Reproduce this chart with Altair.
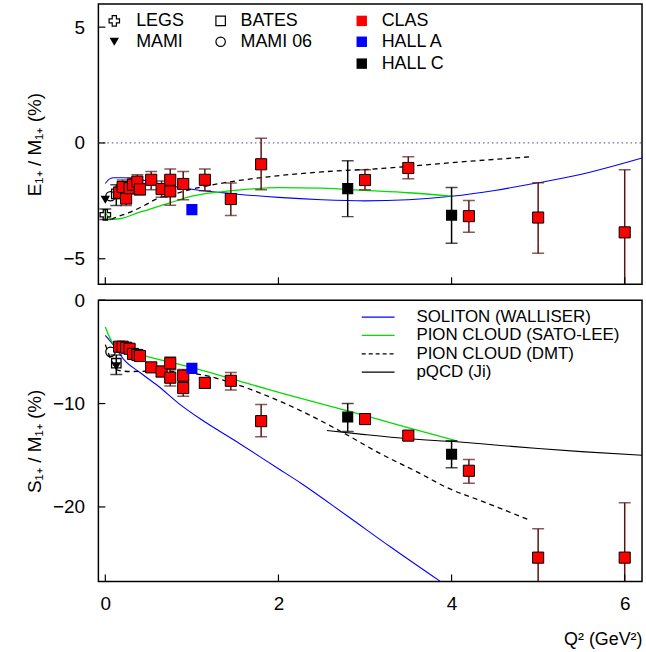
import altair as alt
import pandas as pd

FONT = "Liberation Sans"
W, H1, H2 = 547, 282, 283
XDOM = [-0.08, 6.2]
YDOM_E = [-6.1, 6.0]
YDOM_S = [-27.2, 0.0]

# ---------------- data: E1+/M1+ panel ----------------
clas_e_q2 = [0.16, 0.20, 0.24, 0.28, 0.32, 0.37, 0.40, 0.53, 0.65, 0.75, 0.75, 0.90, 1.15, 1.45, 1.80, 3.00, 3.50, 4.20, 5.00, 6.00]
clas_e_val = [-2.15, -1.90, -2.40, -1.95, -1.80, -1.67, -2.00, -1.59, -1.99, -1.59, -2.09, -1.77, -1.59, -2.42, -0.92, -1.60, -1.08, -3.16, -3.22, -3.86]
clas_e_hi = [-1.90, -1.60, -2.10, -1.70, -1.50, -1.37, -1.75, -1.23, -1.64, -1.12, -1.50, -1.23, -1.12, -1.73, 0.20, -1.16, -0.59, -2.48, -1.72, -1.16]
clas_e_lo = [-2.40, -2.20, -2.70, -2.20, -2.10, -1.97, -2.25, -2.02, -2.34, -2.10, -2.69, -2.45, -2.06, -3.13, -2.02, -2.02, -1.55, -3.85, -4.76, -6.50]

halla_e_q2 = [1.00]
halla_e_val = [-2.88]

hallc_e_q2 = [2.80, 4.00]
hallc_e_val = [-1.97, -3.12]
hallc_e_hi = [-0.77, -1.92]
hallc_e_lo = [-3.18, -4.33]

legs_e_q2 = [0.00]
legs_e_val = [-3.10]
legs_e_hi = [-2.85]
legs_e_lo = [-3.30]

mami_e_q2 = [0.00]
mami_e_val = [-2.45]

bates_e_q2 = [0.127]
bates_e_val = [-2.20]
bates_e_hi = [-1.80]
bates_e_lo = [-2.70]

mami06_e_q2 = [0.06]
mami06_e_val = [-2.30]

# model curves (E1+/M1+)
sol_e_q2 = [0.00, 0.05, 0.10, 0.20, 0.35, 0.50, 0.75, 1.00, 1.50, 2.00, 2.50, 3.00, 3.50, 4.00, 4.50, 5.00, 5.50, 6.20]
sol_e_val = [-1.75, -1.55, -1.50, -1.50, -1.55, -1.65, -1.85, -2.00, -2.20, -2.35, -2.45, -2.50, -2.45, -2.30, -2.05, -1.72, -1.35, -0.65]
sato_e_q2 = [0.00, 0.05, 0.10, 0.20, 0.35, 0.50, 0.75, 1.00, 1.50, 2.00, 2.50, 3.00, 3.50, 4.00]
sato_e_val = [-3.00, -3.25, -3.30, -3.25, -3.05, -2.88, -2.58, -2.30, -2.05, -1.93, -1.95, -2.05, -2.15, -2.30]
dmt_e_q2 = [0.07, 0.13, 0.28, 0.47, 0.60, 0.80, 1.05, 1.37, 1.91, 2.50, 3.20, 4.00, 4.90]
dmt_e_val = [-3.30, -3.20, -3.00, -2.66, -2.40, -2.20, -1.95, -1.72, -1.45, -1.25, -1.10, -0.85, -0.60]

# ---------------- data: S1+/M1+ panel ----------------
clas_s_q2 = [0.16, 0.20, 0.24, 0.28, 0.32, 0.37, 0.40, 0.53, 0.65, 0.75, 0.75, 0.90, 0.90, 1.15, 1.45, 1.80, 3.00, 3.50, 4.20, 5.00, 6.00]
clas_s_val = [-4.5, -4.5, -4.6, -4.7, -5.2, -5.3, -5.4, -6.5, -6.9, -6.1, -7.5, -7.3, -8.5, -8.0, -7.8, -11.7, -11.5, -13.1, -16.5, -24.9, -24.9]
clas_s_hi = [-4.1, -4.1, -4.2, -4.3, -4.8, -4.9, -5.0, -6.1, -6.4, -5.5, -6.7, -6.7, -7.7, -7.5, -7.0, -10.1, -11.2, -12.7, -15.4, -22.1, -19.6]
clas_s_lo = [-4.9, -4.9, -5.0, -5.1, -5.6, -5.7, -5.8, -6.9, -7.4, -6.7, -8.3, -7.9, -9.3, -8.5, -8.7, -13.2, -11.9, -13.5, -17.7, -28.5, -30.0]

halla_s_q2 = [1.00]
halla_s_val = [-6.6]

hallc_s_q2 = [2.80, 4.00]
hallc_s_val = [-11.3, -14.9]
hallc_s_hi = [-10.0, -13.6]
hallc_s_lo = [-12.7, -16.2]

mami_s_q2 = [0.127]
mami_s_val = [-6.4]

bates_s_q2 = [0.127]
bates_s_val = [-6.1]
bates_s_hi = [-5.3]
bates_s_lo = [-7.2]

mami06_s_q2 = [0.06]
mami06_s_val = [-5.0]

sol_s_q2 = [0.00, 0.09, 0.22, 0.40, 0.61, 0.85, 1.10, 1.50, 2.00, 2.26, 2.80, 3.30, 3.87]
sol_s_val = [-3.4, -4.3, -5.8, -7.0, -8.3, -10.0, -11.5, -13.6, -16.3, -17.7, -20.9, -23.9, -27.2]
sato_s_q2 = [0.00, 0.05, 0.10, 0.20, 0.41, 0.70, 0.99, 1.50, 1.91, 2.26, 2.80, 3.40, 4.06]
sato_s_val = [-2.6, -3.6, -4.3, -4.8, -5.3, -5.9, -6.5, -7.7, -8.7, -9.5, -10.7, -12.1, -13.6]
dmt_s_q2 = [0.00, 0.08, 0.15, 0.30, 0.61, 1.10, 1.50, 1.91, 2.26, 2.70, 3.19, 3.60, 3.94, 4.40, 4.88]
dmt_s_val = [-4.3, -6.0, -6.8, -6.9, -6.85, -7.2, -8.1, -9.4, -10.7, -12.6, -14.9, -16.6, -18.1, -19.6, -21.2]
pqcd_s_q2 = [2.56, 3.00, 3.50, 4.06, 4.50, 5.00, 5.50, 6.20]
pqcd_s_val = [-12.6, -13.0, -13.4, -13.7, -14.0, -14.35, -14.65, -15.0]

x_ticks = [0, 2, 4, 6]
e_ticks = [-5, 0, 5]
s_ticks = [-20, -10, 0]

top_legend_names = [["LEGS", "MAMI"], ["BATES", "MAMI 06"], ["CLAS", "HALL A", "HALL C"]]
bottom_legend_names = ["SOLITON (WALLISER)", "PION CLOUD (SATO-LEE)", "PION CLOUD (DMT)", "pQCD (Ji)"]


# ---------------- helpers ----------------
def xenc(field, bottom):
    if bottom:
        axis = alt.Axis(values=x_ticks, ticks=False, domain=False, grid=False,
                        labelFont=FONT, labelFontSize=19, labelPadding=13, labelColor="black",
                        title="Q² (GeV²)", titleFont=FONT, titleFontSize=18,
                        titleFontWeight="normal", titleColor="black",
                        titleAnchor="end", titlePadding=17)
    else:
        axis = None
    return alt.X(f"{field}:Q", scale=alt.Scale(domain=XDOM, nice=False, zero=False), axis=axis)


def yenc(field, panel):
    if panel == "E":
        dom, vals, title = YDOM_E, e_ticks, "E₁₊ / M₁₊ (%)"
    else:
        dom, vals, title = YDOM_S, s_ticks, "S₁₊ / M₁₊ (%)"
    axis = alt.Axis(values=vals, ticks=False, domain=False, grid=False,
                    labelFont=FONT, labelFontSize=19, labelPadding=14, labelColor="black",
                    title=title, titleFont=FONT, titleFontSize=19, titleFontWeight="normal",
                    titleColor="black", titlePadding=6, minExtent=48, maxExtent=48)
    return alt.Y(f"{field}:Q", scale=alt.Scale(domain=dom, nice=False, zero=False), axis=axis)


def curve(q2, val, panel, bottom, color, dash=None, width=1.2):
    df = pd.DataFrame({"q2": q2, "v": val})
    kw = dict(color=color, strokeWidth=width, interpolate="monotone", clip=True)
    if dash:
        kw["strokeDash"] = dash
    return alt.Chart(df).mark_line(**kw).encode(x=xenc("q2", bottom), y=yenc("v", panel))


def errbars(q2, lo, hi, panel, bottom, color):
    df = pd.DataFrame({"q2": q2, "lo": lo, "hi": hi})
    rule = alt.Chart(df).mark_rule(color=color, strokeWidth=1.5, clip=True).encode(
        x=xenc("q2", bottom), y=yenc("lo", panel), y2="hi:Q")
    cap_lo = alt.Chart(df).mark_tick(color=color, orient="horizontal", size=12, thickness=1.5, clip=True).encode(
        x=xenc("q2", bottom), y=yenc("lo", panel))
    cap_hi = alt.Chart(df).mark_tick(color=color, orient="horizontal", size=12, thickness=1.5, clip=True).encode(
        x=xenc("q2", bottom), y=yenc("hi", panel))
    return [rule, cap_lo, cap_hi]


def pts(q2, val, panel, bottom, shape, fill, stroke, size, filled=True, sw=1.0):
    df = pd.DataFrame({"q2": q2, "v": val})
    kw = dict(shape=shape, size=size, filled=filled, opacity=1, strokeWidth=sw, clip=True)
    if filled:
        kw["fill"] = fill
        kw["fillOpacity"] = 1
    else:
        kw["fillOpacity"] = 0
    if stroke:
        kw["stroke"] = stroke
    return alt.Chart(df).mark_point(**kw).encode(x=xenc("q2", bottom), y=yenc("v", panel))


def inner_ticks(panel, bottom, height):
    yt = e_ticks if panel == "E" else s_ticks
    ydf = pd.DataFrame({"t": yt})
    xdf = pd.DataFrame({"t": x_ticks})
    ry = alt.Chart(ydf).mark_rule(color="black", strokeWidth=1.2).encode(
        y=yenc("t", panel), x=alt.value(0), x2=alt.value(7))
    rx = alt.Chart(xdf).mark_rule(color="black", strokeWidth=1.2).encode(
        x=xenc("t", bottom), y=alt.value(height), y2=alt.value(height - 7))
    return [ry, rx]


one = pd.DataFrame({"a": [0]})


def label(text, x, y, size=18):
    return alt.Chart(one).mark_text(text=text, font=FONT, fontSize=size, align="left",
                                    baseline="middle", color="black").encode(
        x=alt.value(x), y=alt.value(y))


def sym(x, y, shape, fill, stroke, size, filled=True, sw=1.2):
    kw = dict(shape=shape, size=size, filled=filled, opacity=1, strokeWidth=sw)
    if filled:
        kw["fill"] = fill
        kw["fillOpacity"] = 1
    else:
        kw["fillOpacity"] = 0
    if stroke:
        kw["stroke"] = stroke
    return alt.Chart(one).mark_point(**kw).encode(x=alt.value(x), y=alt.value(y))


RED = "#ff0000"
ERR_RED = "#5a1414"

# ---------------- top panel ----------------
zero = alt.Chart(pd.DataFrame({"v": [0.0]})).mark_rule(color="#6a6aa8", strokeWidth=1.3, strokeDash=[1.5, 3]).encode(
    y=yenc("v", "E"), x=alt.value(0), x2=alt.value(W))

top_layers = [zero,
              curve(sol_e_q2, sol_e_val, "E", False, "#0000ff", width=1.1),
              curve(sato_e_q2, sato_e_val, "E", False, "#00dd00", width=1.3),
              curve(dmt_e_q2, dmt_e_val, "E", False, "black", dash=[5, 4], width=1.3)]
top_layers += errbars(legs_e_q2, legs_e_lo, legs_e_hi, "E", False, "black")
top_layers += errbars(bates_e_q2, bates_e_lo, bates_e_hi, "E", False, "black")
top_layers += errbars(clas_e_q2, clas_e_lo, clas_e_hi, "E", False, ERR_RED)
top_layers += errbars(hallc_e_q2, hallc_e_lo, hallc_e_hi, "E", False, "black")
top_layers += [
    pts(legs_e_q2, legs_e_val, "E", False, "cross", None, "black", 110, filled=False, sw=1.3),
    pts(mami_e_q2, mami_e_val, "E", False, "triangle-down", "black", None, 90),
    pts(bates_e_q2, bates_e_val, "E", False, "square", None, "black", 90, filled=False, sw=1.3),
    pts(mami06_e_q2, mami06_e_val, "E", False, "circle", None, "black", 90, filled=False, sw=1.3),
    pts(clas_e_q2, clas_e_val, "E", False, "square", RED, "black", 125),
    pts(halla_e_q2, halla_e_val, "E", False, "square", "#0000ff", None, 125),
    pts(hallc_e_q2, hallc_e_val, "E", False, "square", "black", None, 125),
]
top_layers += inner_ticks("E", False, H1)

# top legend
col_sym_x = [16, 123, 265]
col_txt_x = [38, 143, 285]
row_y = [17, 38, 60]
top_syms = [
    [("cross", None, "black", 110, False), ("triangle-down", "black", None, 90, True)],
    [("square", None, "black", 90, False), ("circle", None, "black", 90, False)],
    [("square", RED, None, 110, True), ("square", "#0000ff", None, 110, True), ("square", "black", None, 110, True)],
]
for ci, names in enumerate(top_legend_names):
    for ri, name in enumerate(names):
        shp, fl, st, sz, filled = top_syms[ci][ri]
        top_layers.append(sym(col_sym_x[ci], row_y[ri], shp, fl, st, sz, filled=filled))
        top_layers.append(label(name, col_txt_x[ci], row_y[ri]))

top = alt.layer(*top_layers).properties(width=W, height=H1)

# ---------------- bottom panel ----------------
bot_layers = [
    curve(sol_s_q2, sol_s_val, "S", True, "#0000ff", width=1.1),
    curve(sato_s_q2, sato_s_val, "S", True, "#00dd00", width=1.3),
    curve(dmt_s_q2, dmt_s_val, "S", True, "black", dash=[5, 4], width=1.3),
    curve(pqcd_s_q2, pqcd_s_val, "S", True, "black", width=1.1),
]
bot_layers += errbars(bates_s_q2, bates_s_lo, bates_s_hi, "S", True, "black")
bot_layers += errbars(clas_s_q2, clas_s_lo, clas_s_hi, "S", True, ERR_RED)
bot_layers += errbars(hallc_s_q2, hallc_s_lo, hallc_s_hi, "S", True, "black")
bot_layers += [
    pts(mami_s_q2, mami_s_val, "S", True, "triangle-down", "black", None, 90),
    pts(bates_s_q2, bates_s_val, "S", True, "square", None, "black", 90, filled=False, sw=1.3),
    pts(mami06_s_q2, mami06_s_val, "S", True, "circle", None, "black", 90, filled=False, sw=1.3),
    pts(clas_s_q2, clas_s_val, "S", True, "square", RED, "black", 125),
    pts(halla_s_q2, halla_s_val, "S", True, "square", "#0000ff", None, 125),
    pts(hallc_s_q2, hallc_s_val, "S", True, "square", "black", None, 125),
]
bot_layers += inner_ticks("S", True, H2)

leg_styles = [("#0000ff", None), ("#00dd00", None), ("black", [4, 3]), ("black", None)]
leg_rows = [17, 35.5, 54, 72.5]
for name, (col, dash), yy in zip(bottom_legend_names, leg_styles, leg_rows):
    kw = dict(color=col, strokeWidth=1.3)
    if dash:
        kw["strokeDash"] = dash
    bot_layers.append(alt.Chart(one).mark_rule(**kw).encode(
        x=alt.value(265), x2=alt.value(298), y=alt.value(yy)))
    bot_layers.append(label(name, 320, yy, size=17))

bottom = alt.layer(*bot_layers).properties(width=W, height=H2)

chart = alt.vconcat(top, bottom, spacing=4).properties(
    padding={"left": 25, "top": 1, "right": 2, "bottom": 0},
    background="white",
).configure_view(stroke="black", strokeWidth=1.5).configure_concat(spacing=4)

chart.save("out.html", embed_options={"renderer": "svg", "actions": False})
